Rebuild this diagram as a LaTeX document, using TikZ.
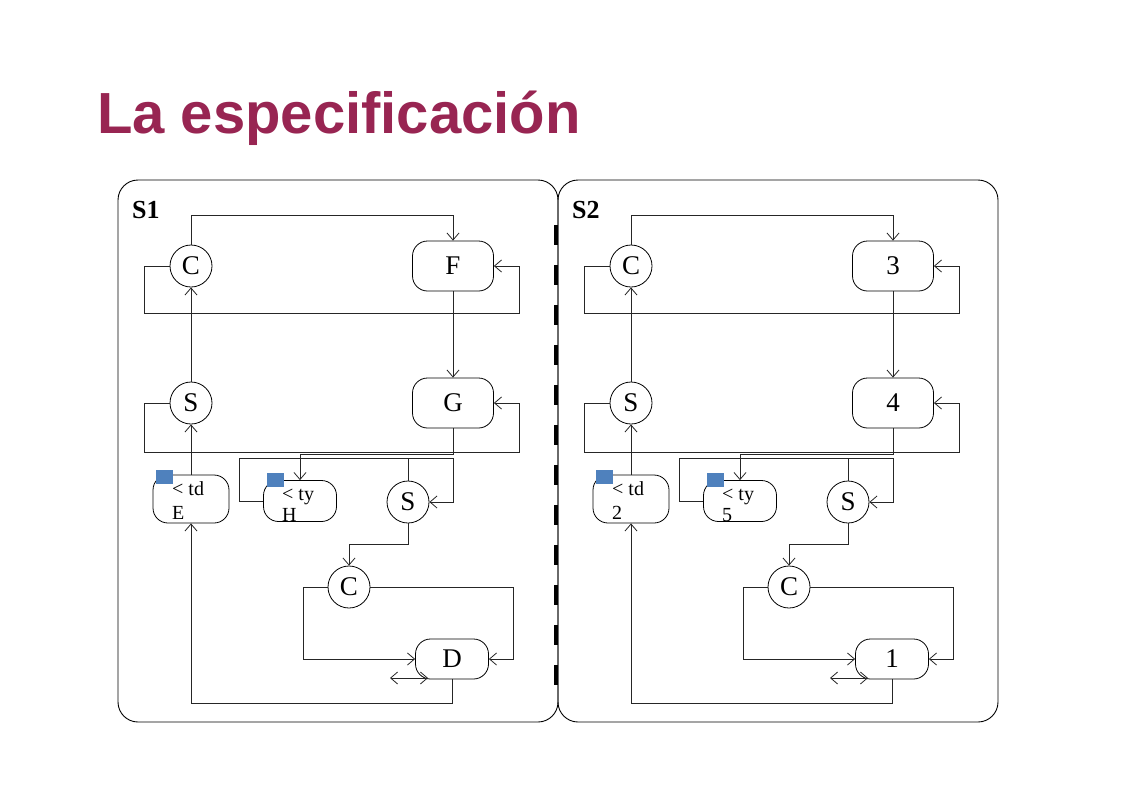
\documentclass[tikz,border=0pt]{standalone}
\usepackage{fontspec}
\setmainfont{Liberation Serif}
\newfontfamily\titlefont{Liberation Sans}
\usetikzlibrary{arrows.meta}
\definecolor{titlered}{RGB}{152,37,82}
\definecolor{sqblue}{RGB}{79,129,189}
\tikzset{
  circ/.style={circle, draw, line width=0.8pt, minimum size=42pt, inner sep=0pt, font=\fontsize{27}{30}\selectfont},
  rbox/.style={draw, line width=0.8pt, rounded corners=15pt, inner sep=0pt, font=\fontsize{27}{30}\selectfont},
  wire/.style={draw=black!85, line width=0.8pt},
  arr/.style={wire, -{Straight Barb[length=7pt,width=12pt]}},
  darr/.style={wire, {Straight Barb[length=7pt,width=12pt]}-{Straight Barb[length=7pt,width=12pt]}},
  smalltxt/.style={inner sep=0pt, anchor=base west, font=\fontsize{20}{22}\selectfont},
  bluesq/.style={fill=sqblue, draw=none},
  panel/.style={draw, line width=0.9pt, rounded corners=20pt},
  paneltitle/.style={inner sep=0pt, anchor=base west, font=\fontsize{26}{30}\selectfont\bfseries}
}
% #1 shift, #2 prefix, #3 panel label, #4 F, #5 G, #6 E, #7 H, #8 D
\newcommand\drawpanelS[8]{%
\begin{scope}[shift={(#1,0)}]
  \node[paneltitle] (#2title) at (132,218) {#3};
  \node[circ] (#2C1) at (191,266) {C};
  \node[rbox, minimum width=81pt, minimum height=50pt] (#2F) at (453,266) {#4};
  \node[circ] (#2S1) at (191,403) {S};
  \node[rbox, minimum width=81pt, minimum height=50pt] (#2G) at (453,403) {#5};
  \node[rbox, minimum width=76pt, minimum height=48pt] (#2E) at (191,499) {};
  \node[rbox, minimum width=73pt, minimum height=41pt] (#2H) at (300,501) {};
  \node[circ] (#2S3) at (408,502) {S};
  \node[circ] (#2C2) at (349,587) {C};
  \node[rbox, minimum width=73pt, minimum height=40pt] (#2D) at (452,659) {#8};
  \fill[bluesq] (156,470) rectangle (173,484);
  \fill[bluesq] (267,473) rectangle (284,487);
  \node[smalltxt] (#2Et1) at (172,495) {< td};
  \node[smalltxt] (#2Et2) at (172,519) {#6};
  \node[smalltxt] (#2Ht1) at (282,500) {< ty};
  \node[smalltxt] (#2Ht2) at (282,521) {#7};
  \coordinate (#2dl) at (390,678);
  \coordinate (#2dr) at (428,678);
  % connectors
  \draw[arr] (#2C1.north) -- ++(0,-29) -| (#2F.north);
  \draw[arr] (#2C1.west) -- ++(-25,0) -- ++(0,47) -| ([xshift=25pt]#2F.east) -- (#2F.east);
  \draw[arr] (#2F.south) -- (#2G.north);
  \draw[arr] (#2S1.north) -- (#2C1.south);
  \draw[arr] (#2S1.west) -- ++(-25,0) -- ++(0,49) -| ([xshift=25pt]#2G.east) -- (#2G.east);
  \draw[arr] (#2E.north) -- (#2S1.south);
  \draw[arr] (#2G.south) -- ++(0,26) -| (#2H.north);
  \draw[arr] (#2H.west) -| ++(-24,-43) -| ([xshift=24pt]#2S3.east) -- (#2S3.east);
  \draw[wire] (#2S3.north) -- ++(0,-23);
  \draw[arr] (#2S3.south) -- ++(0,21) -| (#2C2.north);
  \draw[arr] (#2C2.west) -- ++(-24,0) |- (#2D.west);
  \draw[arr] (#2C2.east) -- ++(143,0) |- (#2D.east);
  \draw[darr] (#2dl) -- (#2dr);
  \draw[arr] (#2D.south) -- ++(0,24) -| (#2E.south);
\end{scope}}
\begin{document}
\begin{tikzpicture}[x=1pt, y=-1pt]
  \useasboundingbox (0,0) rectangle (1122,793);
  \fill[white] (0,0) rectangle (1122,793);
  \node[inner sep=0pt, anchor=base west, text=titlered, font=\titlefont\bfseries\fontsize{58}{64}\selectfont] (title) at (97,133) {La especificación};
  \draw[panel] (118,180) rectangle (558,722);
  \draw[panel] (558,180) rectangle (998,722);
  \drawpanelS{0}{L}{S1}{F}{G}{E}{H}{D}
  \drawpanelS{440}{R}{S2}{3}{4}{2}{5}{1}
  \draw[line width=4pt, dash pattern=on 20pt off 20pt] (555.5,225) -- (555.5,685);
\end{tikzpicture}
\end{document}
